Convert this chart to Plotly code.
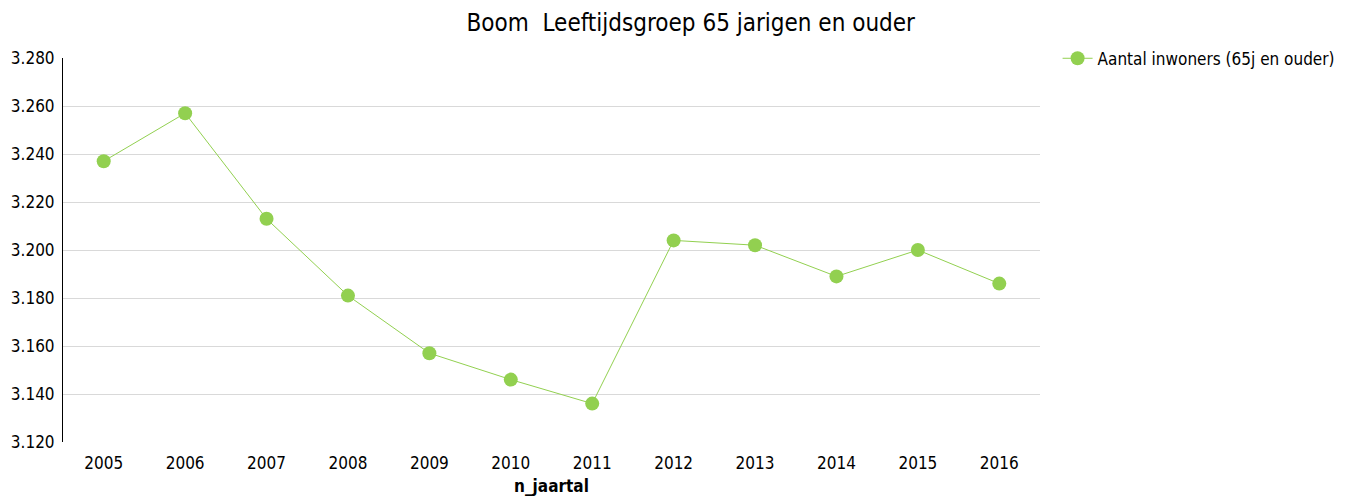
import plotly.graph_objects as go

years = ["2005", "2006", "2007", "2008", "2009", "2010", "2011", "2012", "2013", "2014", "2015", "2016"]
inwoners = [3237, 3257, 3213, 3181, 3157, 3146, 3136, 3204, 3202, 3189, 3200, 3186]
y_ticks = [3120, 3140, 3160, 3180, 3200, 3220, 3240, 3260, 3280]

FONT = "DejaVu Sans Condensed, DejaVu Sans, sans-serif"
GREEN = "#92D050"

fig = go.Figure()
fig.add_trace(go.Scatter(
    x=years, y=inwoners, mode="lines+markers",
    name="Aantal inwoners (65j en ouder)",
    line=dict(color=GREEN, width=1),
    marker=dict(color=GREEN, size=14),
))

fig.update_layout(
    width=1344, height=488,
    paper_bgcolor="white", plot_bgcolor="white",
    separators=",.",
    font=dict(family=FONT, size=17, color="#000000"),
    title=dict(text="Boom  Leeftijdsgroep 65 jarigen en ouder", x=0.508, xanchor="center",
               y=0.971, yanchor="middle", font=dict(size=24, family=FONT)),
    margin=dict(l=55, r=306, t=50, b=54),
    showlegend=True,
    legend=dict(x=1.018, xanchor="left", y=1.045, yanchor="top",
                font=dict(size=17, family=FONT), bgcolor="rgba(0,0,0,0)"),
    xaxis=dict(type="category", range=[-0.5, 11.5], showgrid=False, showline=False,
               ticks="outside", ticklen=6, tickcolor="rgba(0,0,0,0)", tickfont=dict(size=17),
               automargin=False,
               title=dict(text="<b>n_jaartal</b>", font=dict(size=17), standoff=10)),
    yaxis=dict(range=[3120, 3280], tickvals=y_ticks, tickformat=",d",
               showgrid=True, gridcolor="#D9D9D9", gridwidth=1,
               showline=True, linecolor="#000000", linewidth=1,
               zeroline=False, ticks="", ticklen=0, tickfont=dict(size=17),
               ticklabelstandoff=4, automargin=False),
)

fig.write_html("out.html")
